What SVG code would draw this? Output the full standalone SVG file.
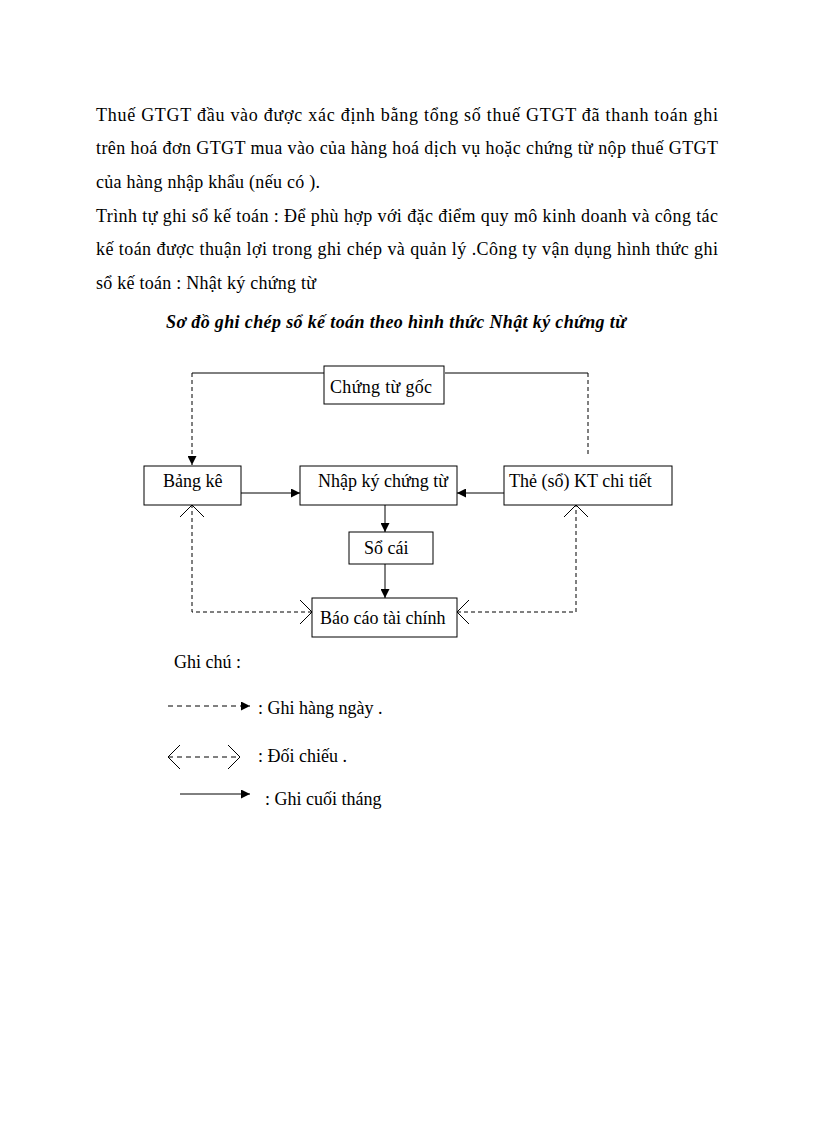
<svg xmlns="http://www.w3.org/2000/svg" width="816" height="1123" viewBox="0 0 816 1123">
<style>
text{font-family:"Liberation Serif","Times New Roman",serif;font-size:18px;fill:#000}
.title{font-weight:bold;font-style:italic}
.box{fill:#fff;stroke:#000;stroke-width:1}
.ln{fill:none;stroke:#000;stroke-width:1}
.dash{stroke-dasharray:4 3}
.ldash{stroke-dasharray:5 4}
</style>
<defs>
<marker id="arr" markerUnits="userSpaceOnUse" markerWidth="9" markerHeight="9" viewBox="0 0 9 9" refX="9" refY="4.5" orient="auto">
<path d="M0,0 L9,4.5 L0,9 z" fill="#000"/>
</marker>
<marker id="vee" markerUnits="userSpaceOnUse" markerWidth="15" markerHeight="28" viewBox="-14 -14 15 28" refX="0" refY="0" orient="auto-start-reverse">
<path d="M-12,-12 L0,0 L-12,12" fill="none" stroke="#000" stroke-width="1"/>
</marker>
</defs>
<rect width="816" height="1123" fill="#fff"/>
<g id="paragraph">
<text x="96" y="121" textLength="622" lengthAdjust="spacing">Thuế GTGT đầu vào được xác định bằng tổng số thuế GTGT đã thanh toán ghi</text>
<text x="96" y="154" textLength="622" lengthAdjust="spacing">trên hoá đơn GTGT mua vào của hàng hoá dịch vụ hoặc chứng từ nộp thuế GTGT</text>
<text x="96" y="188" textLength="224" lengthAdjust="spacing">của hàng nhập khẩu (nếu có ).</text>
<text x="96" y="222" textLength="622" lengthAdjust="spacing">Trình tự ghi sổ kế toán : Để phù hợp với đặc điểm quy mô kinh doanh và công tác</text>
<text x="96" y="255" textLength="622" lengthAdjust="spacing">kế toán được thuận lợi trong ghi chép và quản lý .Công ty vận dụng hình thức ghi</text>
<text x="96" y="289" textLength="220" lengthAdjust="spacing">sổ kế toán : Nhật ký chứng từ</text>
<text class="title" x="166" y="328" textLength="460" lengthAdjust="spacing">Sơ đồ ghi chép sổ kế toán theo hình thức Nhật ký chứng từ</text>
</g>
<g id="connectors">
<path class="ln" d="M324,373 H192"/>
<path class="ln dash" d="M192,373 V465" marker-end="url(#arr)"/>
<path class="ln" d="M445,373 H588"/>
<path class="ln dash" d="M588,373 V457"/>
<path class="ln" d="M241,493 H300" marker-end="url(#arr)"/>
<path class="ln" d="M504,493 H457" marker-end="url(#arr)"/>
<path class="ln" d="M385,505 V532" marker-end="url(#arr)"/>
<path class="ln" d="M385,564 V598" marker-end="url(#arr)"/>
<path class="ln dash" d="M312,612 H192 V505" marker-start="url(#vee)" marker-end="url(#vee)"/>
<path class="ln dash" d="M457,612 H576 V505" marker-start="url(#vee)" marker-end="url(#vee)"/>
</g>
<g id="chung-tu-goc">
<rect class="box" x="324" y="366" width="120" height="38"/>
<text x="330" y="393" textLength="102" lengthAdjust="spacing">Chứng từ gốc</text>
</g>
<g id="bang-ke">
<rect class="box" x="144" y="466" width="97" height="39"/>
<text x="163" y="487">Bảng kê</text>
</g>
<g id="nhap-ky-chung-tu">
<rect class="box" x="300" y="466" width="157" height="39"/>
<text x="318" y="487">Nhập ký chứng từ</text>
</g>
<g id="the-so-kt-chi-tiet">
<rect class="box" x="504" y="466" width="168" height="39"/>
<text x="509" y="487">Thẻ (sổ) KT chi tiết</text>
</g>
<g id="so-cai">
<rect class="box" x="349" y="532" width="84" height="32"/>
<text x="364" y="554">Sổ cái</text>
</g>
<g id="bao-cao-tai-chinh">
<rect class="box" x="312" y="598" width="145" height="39"/>
<text x="320" y="624">Báo cáo tài chính</text>
</g>
<g id="legend">
<text x="174" y="668">Ghi chú :</text>
<path class="ln ldash" d="M168,706 H250" marker-end="url(#arr)"/>
<text x="258" y="714">: Ghi hàng ngày .</text>
<path class="ln ldash" d="M168,757 H240" marker-start="url(#vee)" marker-end="url(#vee)"/>
<text x="258" y="762">: Đối chiếu .</text>
<path class="ln" d="M180,794 H250" marker-end="url(#arr)"/>
<text x="265" y="805">: Ghi cuối tháng</text>
</g>
</svg>
